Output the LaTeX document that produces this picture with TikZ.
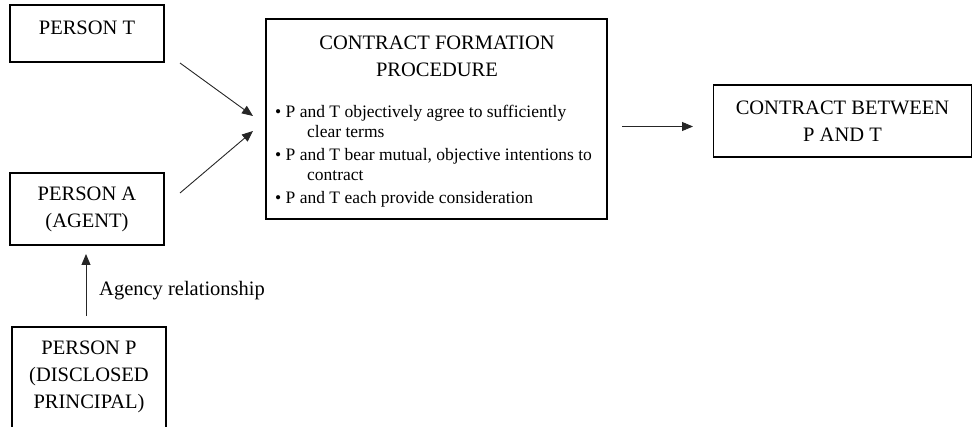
\documentclass[tikz,border=0pt]{standalone}
\usepackage{fontspec}
\setmainfont{Liberation Serif}
\usetikzlibrary{arrows.meta}
\begin{document}
\begin{tikzpicture}[x=1pt,y=-1pt,
  box/.style={draw=black, line width=1.3pt, inner sep=0pt},
  big/.style={font=\fontsize{20.5}{27}\selectfont, align=center, inner sep=0pt},
  small/.style={font=\fontsize{17.5}{20}\selectfont, align=left, inner sep=0pt},
  arr/.style={draw=black!85, line width=0.9pt, -{Triangle[length=11pt,width=9pt]}}]
\useasboundingbox (0,0) rectangle (973,427);
% boxes
\node[box, minimum width=154pt, minimum height=57pt] (T) at (87,33.5) {};
\node[big] (Tt) at (87,28) {PERSON T};
\node[box, minimum width=154pt, minimum height=72pt] (A) at (87,209) {};
\node[big] (At) at (87,209.5) {PERSON A\\(AGENT)};
\node[box, minimum width=154pt, minimum height=104pt] (P) at (89,379) {};
\node[big] (Pt) at (89,377) {PERSON P\\(DISCLOSED\\PRINCIPAL)};
\node[box, minimum width=341pt, minimum height=200pt] (CF) at (436.5,119) {};
\node[big, anchor=base] (CFt) at (437,77) {CONTRACT FORMATION\\PROCEDURE};
\node[small, anchor=base west] (CFi) at (275,204) {%
\textbullet\ P and T objectively agree to sufficiently\\
\hspace*{32pt}clear terms\\[3pt]
\textbullet\ P and T bear mutual, objective intentions to\\
\hspace*{32pt}contract\\[3pt]
\textbullet\ P and T each provide consideration};
\node[box, minimum width=258pt, minimum height=72pt] (C) at (842.5,121) {};
\node[big] (Ct) at (842.5,121) {CONTRACT BETWEEN\\P AND T};
% arrow end points
\coordinate (t1) at (180,63);
\coordinate (t2) at (253,116);
\coordinate (a1) at (180,193);
\coordinate (a2) at (253,131);
\coordinate (c1) at (622,126.5);
\coordinate (c2) at (693,126.5);
\coordinate (p1) at (86,316);
\coordinate (p2) at (86,254);
\draw[arr] (t1) -- (t2);
\draw[arr] (a1) -- (a2);
\draw[arr] (c1) -- (c2);
\draw[arr] (p1) -- (p2);
\node[big, anchor=west] (lbl) at (99,291) {Agency relationship};
\end{tikzpicture}
\end{document}
